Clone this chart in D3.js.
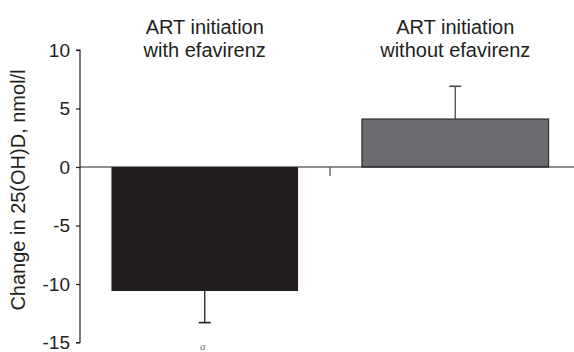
<!DOCTYPE html>
<html>
<head>
<meta charset="utf-8">
<script src="https://cdn.jsdelivr.net/npm/d3@7"></script>
<style>
  html, body { margin: 0; padding: 0; background: #fff; }
  svg { display: block; font-family: "Liberation Sans", Arial, Helvetica, sans-serif; }
</style>
</head>
<body>
<svg id="chart" width="574" height="352"></svg>
<script>
// ---- data ----
const categories = ["with", "without"];
const titleLine1 = ["ART initiation", "ART initiation"];
const titleLine2 = ["with efavirenz", "without efavirenz"];
const values = [-10.6, 4.1];
const errorEnds = [-13.3, 6.9];
const barColors = ["#231f20", "#6b6c6f"];
const yTicks = [10, 5, 0, -5, -10, -15];
const yTickLabels = ["10", "5", "0", "-5", "-10", "-15"];
const yLabel = "Change in 25(OH)D, nmol/l";
const footnote = "a";

// ---- layout ----
const W = 574, H = 352;
const axisX = 80;
const svg = d3.select("#chart");

const y = d3.scaleLinear().domain([-15, 10]).range([342.5, 50]);
const x = d3.scaleBand().domain(categories).range([axisX, 580])
  .paddingInner(0.255).paddingOuter(0.1255);

const ink = "#231f20";

// bars
svg.selectAll("rect.bar").data(categories).join("rect")
  .attr("class", "bar")
  .attr("x", d => x(d))
  .attr("width", x.bandwidth())
  .attr("y", (d, i) => y(Math.max(0, values[i])))
  .attr("height", (d, i) => Math.abs(y(values[i]) - y(0)))
  .attr("fill", (d, i) => barColors[i])
  .attr("stroke", (d, i) => i === 0 ? "none" : "#2e2e30")
  .attr("stroke-width", 1.2);

// error bars
const capHalf = 6;
categories.forEach((c, i) => {
  const cx = x(c) + x.bandwidth() / 2;
  const col = i === 0 ? ink : "#4a4a4c";
  svg.append("line")
    .attr("x1", cx).attr("x2", cx)
    .attr("y1", y(values[i])).attr("y2", y(errorEnds[i]))
    .attr("stroke", col).attr("stroke-width", 1.3);
  svg.append("line")
    .attr("x1", cx - capHalf).attr("x2", cx + capHalf)
    .attr("y1", y(errorEnds[i])).attr("y2", y(errorEnds[i]))
    .attr("stroke", col).attr("stroke-width", 1.6);
});

// zero line
svg.append("line")
  .attr("x1", axisX).attr("x2", W)
  .attr("y1", y(0)).attr("y2", y(0))
  .attr("stroke", ink).attr("stroke-width", 1.2);

// separator tick between categories
const midX = (x(categories[0]) + x.bandwidth() + x(categories[1])) / 2;
svg.append("line")
  .attr("x1", midX).attr("x2", midX)
  .attr("y1", y(0)).attr("y2", y(0) + 9)
  .attr("stroke", "#4a4a4c").attr("stroke-width", 1.2);

// y axis
const yAxis = d3.axisLeft(y).tickValues(yTicks).tickSize(4).tickPadding(6)
  .tickFormat((d, i) => yTickLabels[i]);
const gy = svg.append("g").attr("transform", `translate(${axisX},0)`).call(yAxis);
gy.select(".domain").attr("d", `M-4,${y(10)}H0V${y(-15)}H-4`).attr("stroke", ink).attr("stroke-width", 1.2);
gy.selectAll(".tick line").attr("stroke", ink).attr("stroke-width", 1.2);
gy.selectAll(".tick text")
  .attr("fill", ink)
  .style("font-size", "19px")
  .style("font-family", "'Liberation Sans', Arial, sans-serif");

// y label
svg.append("text")
  .attr("transform", `translate(25,${190}) rotate(-90)`)
  .attr("text-anchor", "middle")
  .attr("fill", ink)
  .style("font-size", "20px")
  .text(yLabel);

// category titles
categories.forEach((c, i) => {
  const cx = x(c) + x.bandwidth() / 2;
  svg.append("text").attr("x", cx).attr("y", 34)
    .attr("text-anchor", "middle").attr("fill", ink)
    .style("font-size", "20px").text(titleLine1[i]);
  svg.append("text").attr("x", cx).attr("y", 57)
    .attr("text-anchor", "middle").attr("fill", ink)
    .style("font-size", "20px").text(titleLine2[i]);
});

// footnote marker
svg.append("text")
  .attr("x", x(categories[0]) + x.bandwidth() / 2 - 2)
  .attr("y", 350)
  .attr("text-anchor", "middle")
  .attr("fill", "#6b6c6f")
  .style("font-size", "11px")
  .style("font-style", "italic")
  .style("font-family", "'Liberation Serif', serif")
  .text(footnote);
</script>
</body>
</html>
